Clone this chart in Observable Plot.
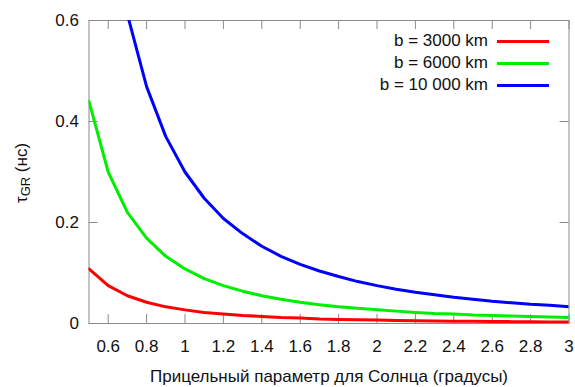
<!DOCTYPE html>
<html>
<head>
<meta charset="utf-8">
<script src="https://cdn.jsdelivr.net/npm/d3@7"></script>
<script src="https://cdn.jsdelivr.net/npm/@observablehq/plot@0.6"></script>
<style>
  body { margin: 0; background: #fff; font-family: "Liberation Sans", Arial, sans-serif; }
  #chart { position: relative; width: 575px; height: 387px; }
  #chart svg { position: absolute; left: 0; top: 0; }
  .ylab {
    position: absolute; left: 22px; top: 173px;
    transform: translate(-50%, -50%) rotate(-90deg);
    font-size: 17px; white-space: nowrap; color: #111;
  }
  .ylab sub { font-size: 13px; vertical-align: -3px; }
  .legend { position: absolute; right: 26px; top: 30px; font-size: 17px; color: #111; }
  .legend .row { display: flex; align-items: center; justify-content: flex-end; height: 22px; }
  .legend .sw { width: 52px; height: 3px; margin-left: 9px; }
</style>
</head>
<body>
<div id="chart"></div>
<script>
// Impact angle from the Sun, degrees
const angles = [0.5, 0.6, 0.7, 0.8, 0.9, 1.0, 1.1, 1.2, 1.3, 1.4, 1.5, 1.6, 1.7,
                1.8, 1.9, 2.0, 2.1, 2.2, 2.3, 2.4, 2.5, 2.6, 2.7, 2.8, 2.9, 3.0];

// Gravitational delay difference, ns, for three baselines
const tau3000  = [0.108, 0.075, 0.055, 0.042, 0.033, 0.027, 0.022, 0.019, 0.016, 0.014, 0.012, 0.011, 0.009,
                  0.008, 0.0075, 0.007, 0.006, 0.0056, 0.005, 0.0047, 0.0043, 0.004, 0.0037, 0.0034, 0.0032, 0.003];
const tau6000  = [0.44, 0.30, 0.22, 0.169, 0.133, 0.108, 0.089, 0.075, 0.064, 0.055, 0.048, 0.042, 0.037,
                  0.033, 0.030, 0.027, 0.0245, 0.022, 0.020, 0.019, 0.017, 0.016, 0.015, 0.014, 0.013, 0.012];
const tau10000 = [null, null, 0.612, 0.469, 0.370, 0.300, 0.248, 0.208, 0.178, 0.153, 0.133, 0.117, 0.104,
                  0.093, 0.083, 0.075, 0.068, 0.062, 0.057, 0.052, 0.048, 0.044, 0.041, 0.038, 0.036, 0.033];

const seriesNames  = ["b = 3000 km", "b = 6000 km", "b = 10 000 km"];
const seriesColors = ["#ff0000", "#00ee00", "#0000ff"];

const xTicks = [0.6, 0.8, 1.0, 1.2, 1.4, 1.6, 1.8, 2.0, 2.2, 2.4, 2.6, 2.8, 3.0];
const yTicks = [0, 0.2, 0.4, 0.6];

const xLabel = "Прицельный параметр для Солнца (градусы)";

const seriesValues = [tau3000, tau6000, tau10000];
const rows = seriesValues.flatMap((vals, s) =>
  angles.map((a, i) => ({angle: a, tau: vals[i], series: seriesNames[s]})));

const frameW = 480, frameH = 303, tickLen = 9;
const grey = "#8a8a8a";
const fmt = d => String(+d.toFixed(1));

const plot = Plot.plot({
  width: 575,
  height: 387,
  marginLeft: 88.5,
  marginRight: 6.5,
  marginTop: 20,
  marginBottom: 64,
  style: {fontSize: "17px", fontFamily: "'Liberation Sans', Arial, sans-serif", color: "#111"},
  x: {domain: [0.5, 3], label: null},
  y: {domain: [0, 0.6], label: null},
  color: {domain: seriesNames, range: seriesColors},
  marks: [
    Plot.frame({stroke: grey}),
    // inward ticks on all four sides
    Plot.tickX(xTicks, {x: d => d, stroke: grey, insetTop: frameH - tickLen}),
    Plot.tickX(xTicks, {x: d => d, stroke: grey, insetBottom: frameH - tickLen}),
    Plot.tickY(yTicks, {y: d => d, stroke: grey, insetRight: frameW - tickLen}),
    Plot.tickY(yTicks, {y: d => d, stroke: grey, insetLeft: frameW - tickLen}),
    Plot.axisX(xTicks, {tickSize: 0, tickPadding: 16, tickFormat: fmt, label: null, fill: "#111"}),
    Plot.axisY(yTicks, {tickSize: 0, tickPadding: 10, tickFormat: fmt, label: null, fill: "#111"}),
    Plot.line(rows, {x: "angle", y: "tau", z: "series", stroke: "series",
                     strokeWidth: 3, clip: true, defined: d => d.tau != null}),
    Plot.text([xLabel], {frameAnchor: "bottom", dy: 58, fill: "#111"})
  ]
});

const chart = document.getElementById("chart");
chart.appendChild(plot);

const ylab = document.createElement("div");
ylab.className = "ylab";
ylab.innerHTML = "τ<sub>GR</sub> (нс)";
chart.appendChild(ylab);

const legend = document.createElement("div");
legend.className = "legend";
seriesNames.forEach((name, i) => {
  const row = document.createElement("div");
  row.className = "row";
  const label = document.createElement("span");
  label.textContent = name;
  const sw = document.createElement("span");
  sw.className = "sw";
  sw.style.background = seriesColors[i];
  row.appendChild(label);
  row.appendChild(sw);
  legend.appendChild(row);
});
chart.appendChild(legend);
</script>
</body>
</html>
